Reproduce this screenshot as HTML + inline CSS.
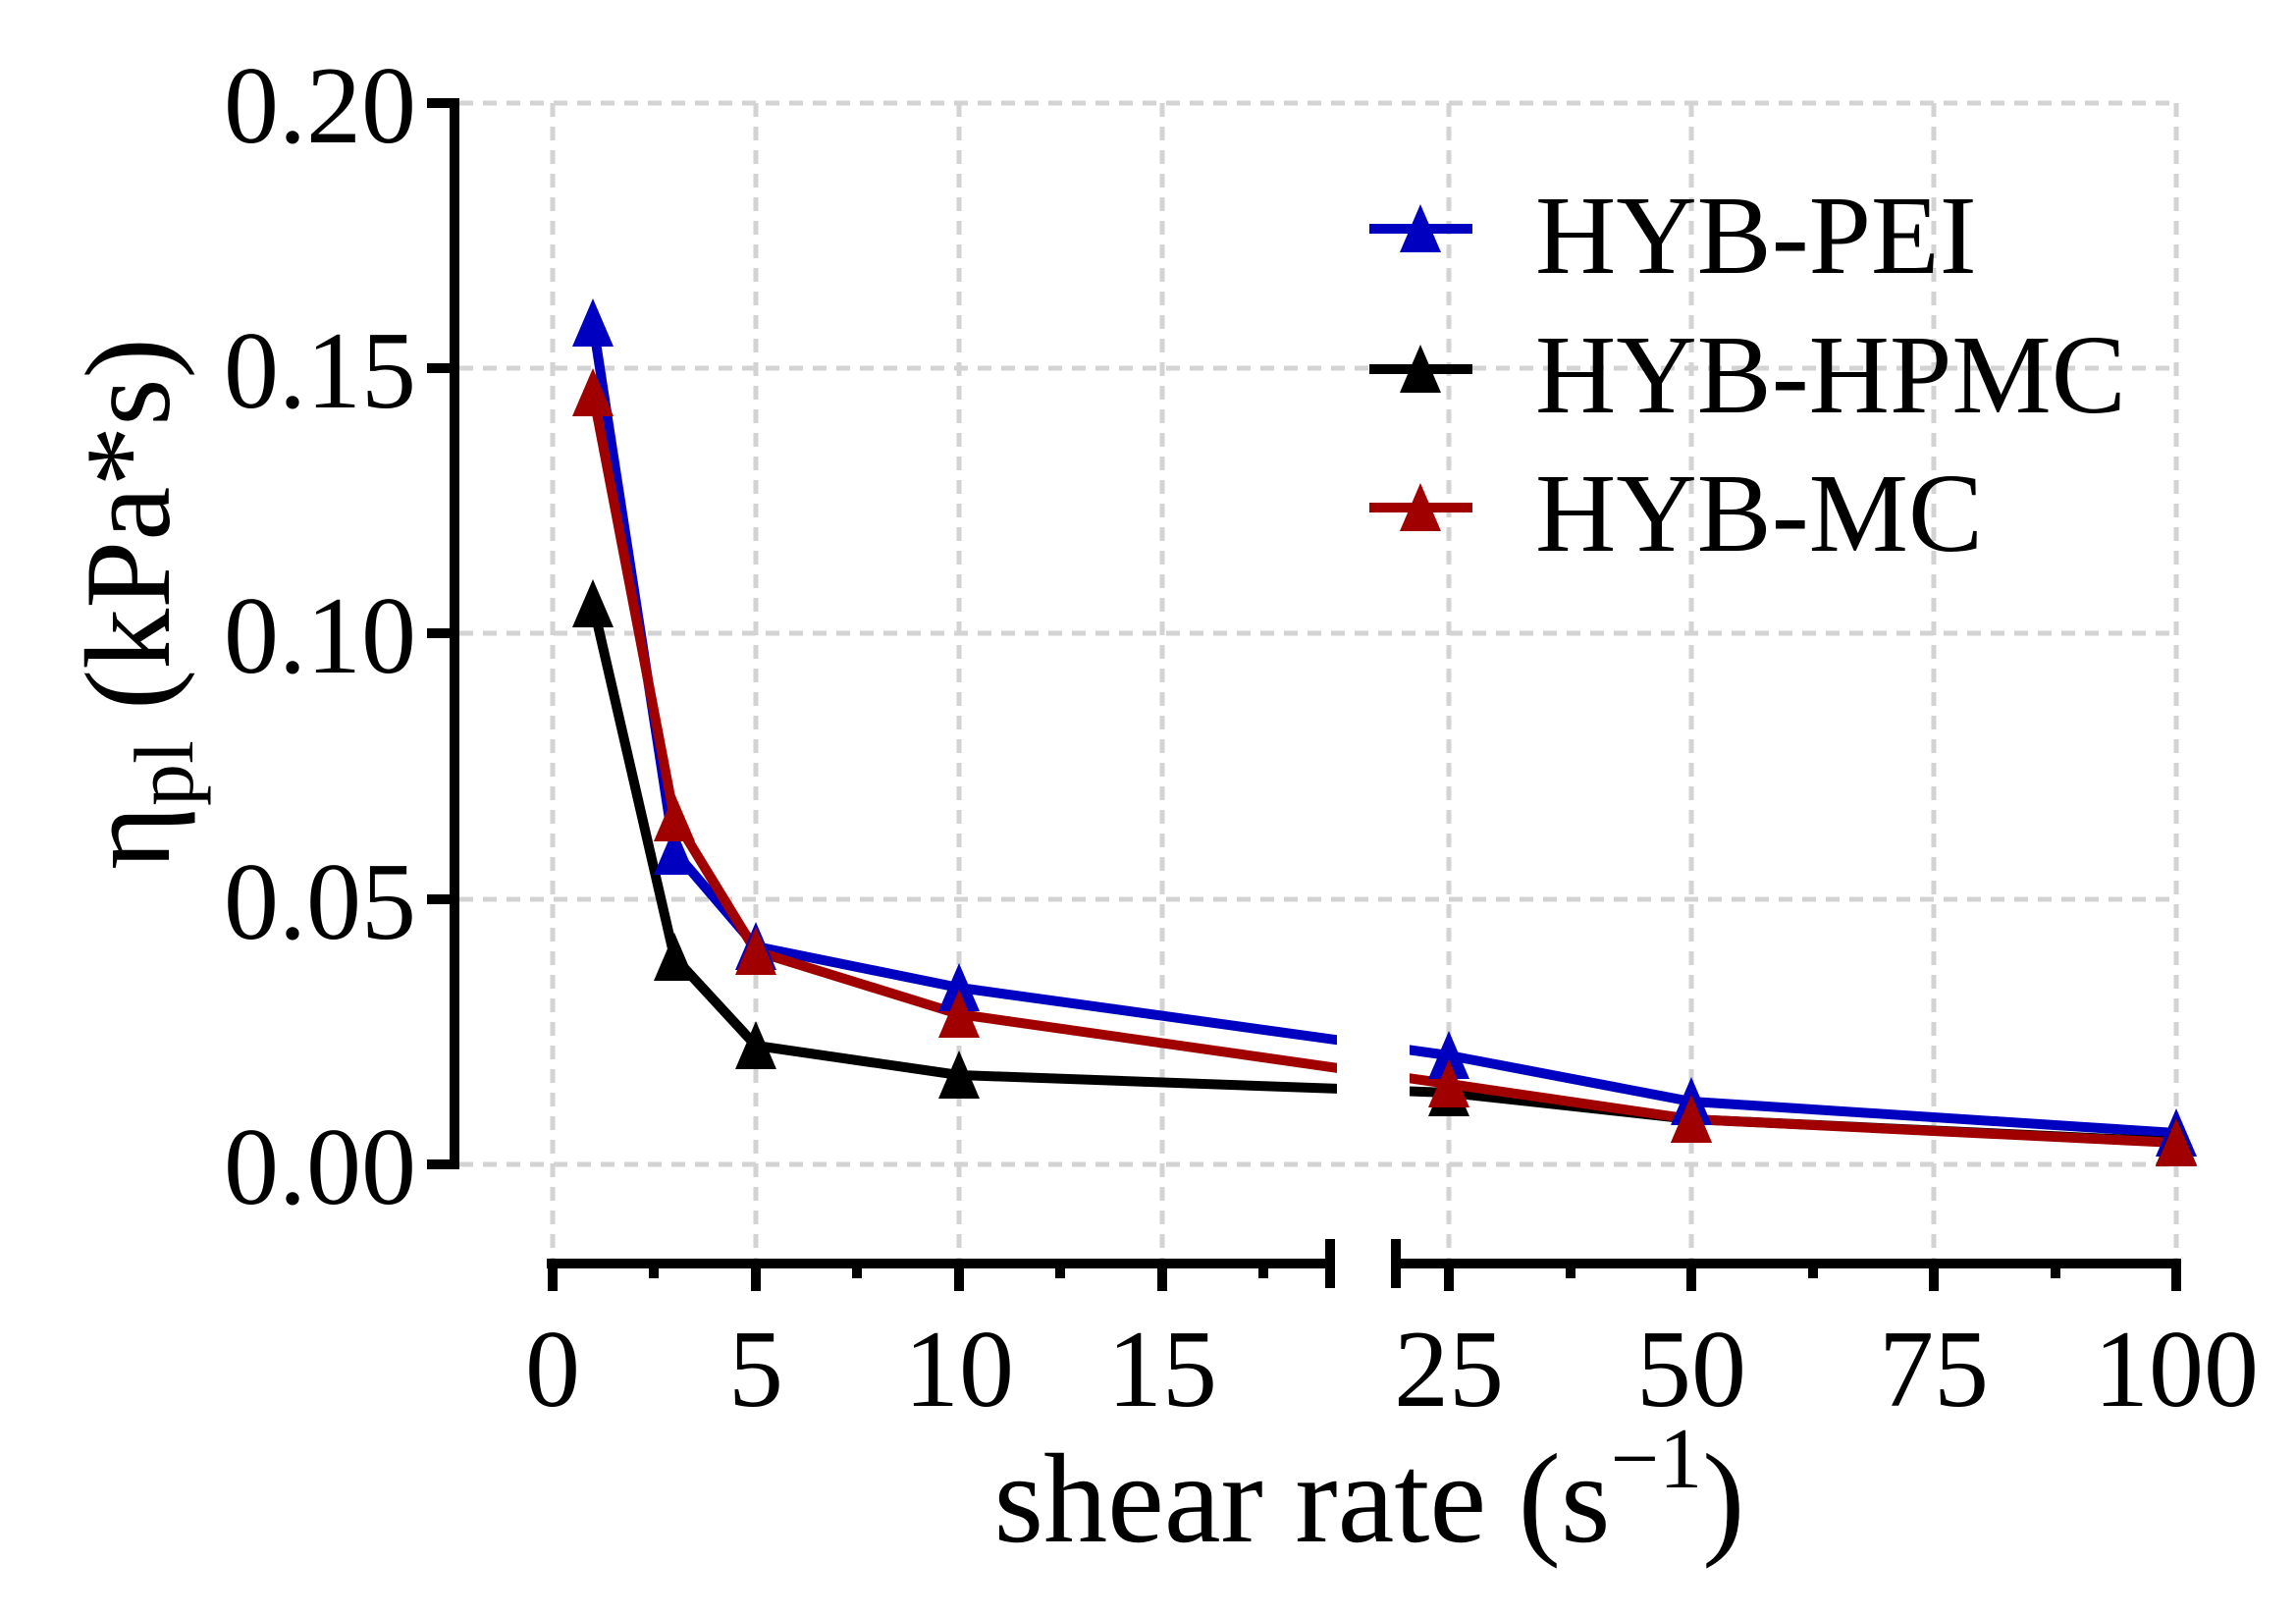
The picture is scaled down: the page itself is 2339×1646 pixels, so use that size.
<!DOCTYPE html>
<html><head><meta charset="utf-8"><style>html,body{margin:0;padding:0;background:#fff}svg{display:block}</style></head>
<body>
<svg xmlns="http://www.w3.org/2000/svg" width="2339" height="1646" viewBox="0 0 2339 1646" font-family="'Liberation Serif', serif">
<defs>
<clipPath id="c"><rect x="0" y="0" width="1362" height="1646"/><rect x="1436" y="0" width="903" height="1646"/></clipPath>
<path id="tri" d="M0,-25 L21,24 L-21,24 Z"/>
</defs>
<g stroke="#d3d3d3" stroke-width="5" stroke-dasharray="14,10" fill="none">
<line x1="468" y1="105" x2="2220" y2="105"/>
<line x1="468" y1="375" x2="2220" y2="375"/>
<line x1="468" y1="645" x2="2220" y2="645"/>
<line x1="468" y1="916" x2="2220" y2="916"/>
<line x1="468" y1="1186" x2="2220" y2="1186"/>
<line x1="563" y1="105" x2="563" y2="1282"/>
<line x1="770" y1="105" x2="770" y2="1282"/>
<line x1="977" y1="105" x2="977" y2="1282"/>
<line x1="1184" y1="105" x2="1184" y2="1282"/>
<line x1="1476" y1="105" x2="1476" y2="1282"/>
<line x1="1723" y1="105" x2="1723" y2="1282"/>
<line x1="1970" y1="105" x2="1970" y2="1282"/>
<line x1="2217" y1="105" x2="2217" y2="1282"/>
</g>
<g stroke="#000" stroke-width="10" fill="none">
<line x1="463" y1="100" x2="463" y2="1191"/>
<line x1="435" y1="105" x2="463" y2="105"/>
<line x1="435" y1="375" x2="463" y2="375"/>
<line x1="435" y1="645" x2="463" y2="645"/>
<line x1="435" y1="916" x2="463" y2="916"/>
<line x1="435" y1="1186" x2="463" y2="1186"/>
<line x1="557" y1="1287" x2="1355" y2="1287"/>
<line x1="1422" y1="1287" x2="2222" y2="1287"/>
<line x1="1355" y1="1262" x2="1355" y2="1312"/>
<line x1="1422" y1="1262" x2="1422" y2="1312"/>
<line x1="563" y1="1287" x2="563" y2="1315"/>
<line x1="770" y1="1287" x2="770" y2="1315"/>
<line x1="977" y1="1287" x2="977" y2="1315"/>
<line x1="1184" y1="1287" x2="1184" y2="1315"/>
<line x1="1476" y1="1287" x2="1476" y2="1315"/>
<line x1="1723" y1="1287" x2="1723" y2="1315"/>
<line x1="1970" y1="1287" x2="1970" y2="1315"/>
<line x1="2217" y1="1287" x2="2217" y2="1315"/>
<line x1="666" y1="1287" x2="666" y2="1302"/>
<line x1="873" y1="1287" x2="873" y2="1302"/>
<line x1="1080" y1="1287" x2="1080" y2="1302"/>
<line x1="1287" y1="1287" x2="1287" y2="1302"/>
<line x1="1600" y1="1287" x2="1600" y2="1302"/>
<line x1="1847" y1="1287" x2="1847" y2="1302"/>
<line x1="2094" y1="1287" x2="2094" y2="1302"/>
</g>
<g font-size="112" fill="#000" text-anchor="end">
<text x="424" y="145">0.20</text>
<text x="424" y="415">0.15</text>
<text x="424" y="685">0.10</text>
<text x="424" y="956">0.05</text>
<text x="424" y="1226">0.00</text>
</g>
<g font-size="112" fill="#000" text-anchor="middle">
<text x="563" y="1432">0</text>
<text x="770" y="1432">5</text>
<text x="977" y="1432">10</text>
<text x="1184" y="1432">15</text>
<text x="1476" y="1432">25</text>
<text x="1723" y="1432">50</text>
<text x="1970" y="1432">75</text>
<text x="2217" y="1432">100</text>
</g>
<text x="1395" y="1570" font-size="130" text-anchor="middle">shear rate (s<tspan font-size="88" dy="-55">−1</tspan><tspan dy="55">)</tspan></text>
<text transform="translate(172,615) rotate(-90)" font-size="124" text-anchor="middle">η<tspan font-size="86" dy="24">pl</tspan><tspan dy="-24"> (kPa*s)</tspan></text>
<g clip-path="url(#c)" fill="none" stroke-width="10" stroke-linejoin="round">
<polyline stroke="#0000c0" points="604,329 687,867 770,964 977,1006 1476,1075 1723,1122 2217,1154"/>
<polyline stroke="#000" points="604,615 687,975 770,1065 977,1095 1476,1113 1723,1140 2217,1163"/>
<polyline stroke="#a00000" points="604,400 687,833 770,969 977,1033 1476,1104 1723,1140 2217,1164"/>
</g>
<g fill="#0000c0">
<use href="#tri" x="604" y="329"/><use href="#tri" x="687" y="867"/><use href="#tri" x="770" y="964"/><use href="#tri" x="977" y="1006"/><use href="#tri" x="1476" y="1075"/><use href="#tri" x="1723" y="1122"/><use href="#tri" x="2217" y="1154"/>
</g>
<g fill="#000">
<use href="#tri" x="604" y="615"/><use href="#tri" x="687" y="975"/><use href="#tri" x="770" y="1065"/><use href="#tri" x="977" y="1095"/><use href="#tri" x="1476" y="1113"/><use href="#tri" x="1723" y="1140"/><use href="#tri" x="2217" y="1163"/>
</g>
<g fill="#a00000">
<use href="#tri" x="604" y="400"/><use href="#tri" x="687" y="833"/><use href="#tri" x="770" y="969"/><use href="#tri" x="977" y="1033"/><use href="#tri" x="1476" y="1104"/><use href="#tri" x="1723" y="1140"/><use href="#tri" x="2217" y="1164"/>
</g>
<g stroke-width="10">
<line x1="1395" y1="233" x2="1500" y2="233" stroke="#0000c0"/>
<line x1="1395" y1="376" x2="1500" y2="376" stroke="#000"/>
<line x1="1395" y1="517" x2="1500" y2="517" stroke="#a00000"/>
</g>
<use href="#tri" x="1447" y="233" fill="#0000c0"/>
<use href="#tri" x="1447" y="376" fill="#000"/>
<use href="#tri" x="1447" y="517" fill="#a00000"/>
<g font-size="114" fill="#000">
<text x="1564" y="278">HYB-PEI</text>
<text x="1564" y="420">HYB-HPMC</text>
<text x="1564" y="561">HYB-MC</text>
</g>
</svg>
</body></html>
